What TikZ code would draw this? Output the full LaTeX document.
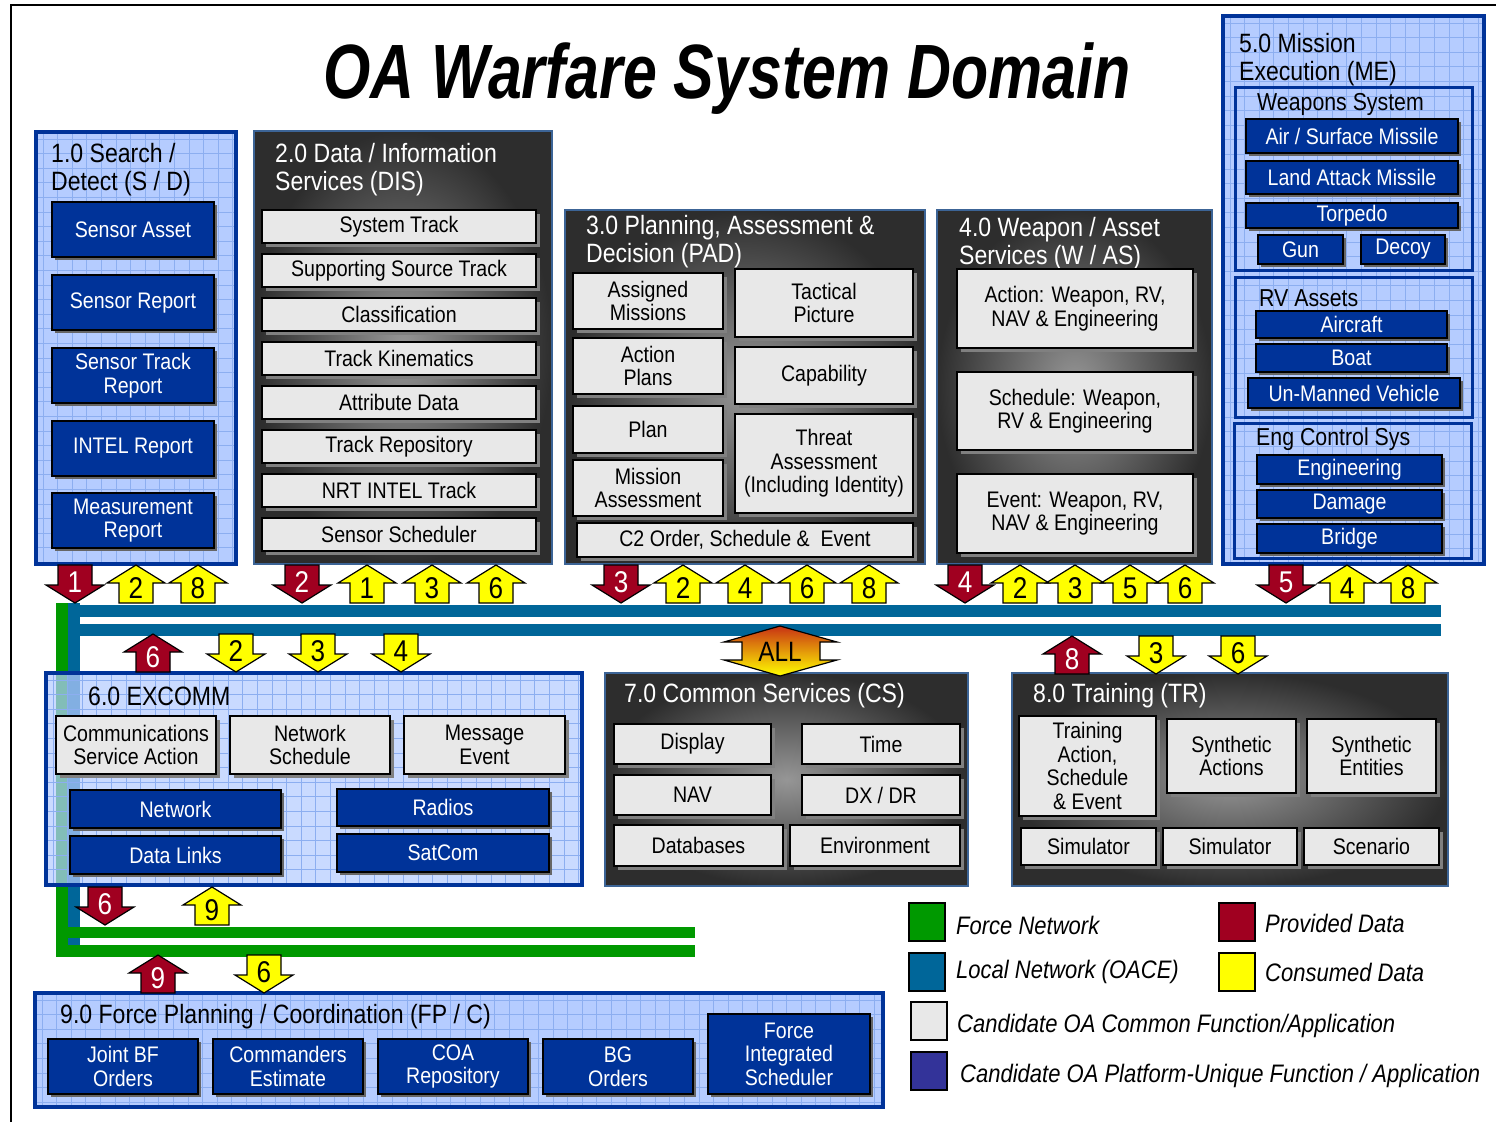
\documentclass[tikz,border=0pt]{standalone}
\usepackage{fontspec}
\setmainfont[FakeStretch=0.87]{Liberation Sans}
\newfontfamily\titlefont[FakeStretch=0.79]{Liberation Sans}
\usetikzlibrary{shadows}
\definecolor{dblue}{RGB}{0,51,153}
\definecolor{pfill}{RGB}{181,204,255}
\definecolor{pgrid}{RGB}{140,174,240}
\definecolor{lgray}{RGB}{232,232,232}
\definecolor{netblue}{RGB}{0,102,153}
\definecolor{netgreen}{RGB}{0,153,0}
\definecolor{provred}{RGB}{160,0,32}
\definecolor{consyel}{RGB}{255,255,0}
\definecolor{pborder}{RGB}{60,100,150}
\definecolor{purp}{RGB}{51,51,153}
\definecolor{pcenter}{RGB}{150,150,150}
\definecolor{pouter}{RGB}{45,45,45}
\definecolor{allred}{RGB}{200,50,20}
\newcommand\bxfont{\fontsize{22.5}{23.5}\selectfont}
\newcommand\ptfont{\fontsize{26.5}{28}\selectfont}
\newcommand\numfont{\fontsize{30}{30}\selectfont}
% box from corners
\newcommand\BX[7]{\node[#1, minimum width={#5-#3}, minimum height={#6-#4}] (#2) at ({(#3+#5)/2},{(#4+#6)/2+1}) {#7};}
% light-blue grid panel
\newcommand\BluePanel[5]{%
 \fill[pfill, fill opacity=#5] (#1,#2) rectangle (#3,#4);
 \begin{scope}
  \clip (#1,#2) rectangle (#3,#4);
  \foreach \k in {0,...,60}{
   \draw[pgrid, line width=0.9] ({#1+7+\k*14.6},#2) -- ({#1+7+\k*14.6},#4);
   \draw[pgrid, line width=0.9] (#1,{#2+7+\k*14.6}) -- (#3,{#2+7+\k*14.6});
  }
 \end{scope}
 \draw[dblue, line width=3.5] (#1,#2) rectangle (#3,#4);
}
% dark gradient panel
\newcommand\GrayPanel[4]{%
 \shade[inner color=pcenter, outer color=pouter] (#1,#2) rectangle (#3,#4);
 \draw[pborder, line width=2.5] (#1,#2) rectangle (#3,#4);
}
% block arrows: name, x, y (centre), colour, number
\newcommand\UpArr[5]{%
 \begin{scope}[shift={(#2,#3)}]
  \draw[arrline, fill=#4] (0,-19) -- (29,-1) -- (17,-1) -- (17,19) -- (-17,19) -- (-17,-1) -- (-29,-1) -- cycle;
  \node[numlbl, txt #4] (#1) at (0,4) {#5};
 \end{scope}}
\newcommand\DnArr[5]{%
 \begin{scope}[shift={(#2,#3)}]
  \draw[arrline, fill=#4] (0,19) -- (29,1) -- (17,1) -- (17,-19) -- (-17,-19) -- (-17,1) -- (-29,1) -- cycle;
  \node[numlbl, txt #4] (#1) at (0,-2) {#5};
 \end{scope}}
\begin{document}
\begin{tikzpicture}[x=1pt,y=-1pt,
  lbox/.style={draw=black, line width=1.8, fill=lgray, text=black, align=center, inner sep=0, font=\bxfont,
    drop shadow={shadow xshift=4pt, shadow yshift=-4pt, fill=black!50, opacity=1}},
  dbox/.style={draw=black, line width=1.8, fill=dblue, text=white, align=center, inner sep=0, font=\bxfont,
    drop shadow={shadow xshift=3pt, shadow yshift=-3pt, fill=black!60, opacity=1}},
  ptw/.style={text=white, font=\ptfont, align=left, anchor=west, inner sep=0},
  ptb/.style={text=black, font=\ptfont, align=left, anchor=west, inner sep=0},
  subt/.style={text=black, font=\fontsize{24.5}{26}\selectfont, anchor=west, inner sep=0},
  arrline/.style={draw=black, line width=1.2, line join=miter},
  numlbl/.style={font=\numfont, inner sep=0},
  txt provred/.style={text=white},
  txt consyel/.style={text=black},
  lgsq/.style={draw=black, line width=1.5, minimum width=36, minimum height=38, inner sep=0},
  lgtxt/.style={font=\itshape\fontsize{25.3}{27}\selectfont, anchor=west, inner sep=0},
  subp/.style={draw=dblue, line width=3}
]
\useasboundingbox (0,0) rectangle (1496,1122);
\fill[white] (0,0) rectangle (1496,1122);
% frame
\draw[line width=2] (11,1122) -- (11,5) -- (1496,5);
% title
\node[font=\titlefont\bfseries\itshape\fontsize{77}{80}\selectfont, anchor=base, inner sep=0] (title) at (727,98) {OA Warfare System Domain};

% ---------- networks ----------
\fill[netblue] (68,603) rectangle (80,945);
\fill[netblue] (68,605) rectangle (1441,617);
\fill[netblue] (80,624) rectangle (1441,636);
\fill[netgreen] (56,603) rectangle (68,957);
\fill[netgreen] (68,927) rectangle (695,938);
\fill[netgreen] (56,945) rectangle (695,957);

% ---------- 1.0 ----------
\BluePanel{36}{132}{236}{564}{1}
\node[ptb] (t1) at (51,170) {1.0 Search /\\Detect (S / D)};
\BX{dbox}{b1a}{52}{201}{214}{256}{Sensor Asset}
\BX{dbox}{b1b}{52}{274}{214}{329}{Sensor Report}
\BX{dbox}{b1c}{52}{347}{214}{402}{Sensor Track\\Report}
\BX{dbox}{b1d}{52}{420}{214}{475}{INTEL Report}
\BX{dbox}{b1e}{52}{492}{214}{547}{Measurement\\Report}

% ---------- 2.0 ----------
\GrayPanel{254}{131}{552}{564}
\node[ptw] (t2) at (275,170) {2.0 Data / Information\\Services (DIS)};
\BX{lbox}{b2a}{262}{209}{536}{242}{System Track}
\BX{lbox}{b2b}{262}{253}{536}{286}{Supporting Source Track}
\BX{lbox}{b2c}{262}{297}{536}{330}{Classification}
\BX{lbox}{b2d}{262}{341}{536}{374}{Track Kinematics}
\BX{lbox}{b2e}{262}{385}{536}{418}{Attribute Data}
\BX{lbox}{b2f}{262}{429}{536}{462}{Track Repository}
\BX{lbox}{b2g}{262}{473}{536}{506}{NRT INTEL Track}
\BX{lbox}{b2h}{262}{517}{536}{550}{Sensor Scheduler}

% ---------- 3.0 ----------
\GrayPanel{565}{210}{925}{564}
\node[ptw] (t3) at (586,242) {3.0 Planning, Assessment \&\\Decision (PAD)};
\BX{lbox}{b3a}{573}{272}{723}{328}{Assigned\\Missions}
\BX{lbox}{b3b}{735}{268}{913}{336}{Tactical\\Picture}
\BX{lbox}{b3c}{573}{337}{723}{393}{Action\\Plans}
\BX{lbox}{b3d}{735}{346}{913}{403}{Capability}
\BX{lbox}{b3e}{573}{405}{723}{452}{Plan}
\BX{lbox}{b3f}{735}{413}{913}{512}{Threat\\Assessment\\(Including Identity)}
\BX{lbox}{b3g}{573}{459}{723}{515}{Mission\\Assessment}
\BX{lbox}{b3h}{577}{522}{913}{556}{C2 Order, Schedule \& \ Event}

% ---------- 4.0 ----------
\GrayPanel{937}{210}{1212}{564}
\node[ptw] (t4) at (959,244) {4.0 Weapon / Asset\\Services (W / AS)};
\BX{lbox}{b4a}{957}{268}{1193}{347}{Action: Weapon, RV,\\NAV \& Engineering}
\BX{lbox}{b4b}{957}{371}{1193}{449}{Schedule: Weapon,\\RV \& Engineering}
\BX{lbox}{b4c}{957}{473}{1193}{552}{Event: Weapon, RV,\\NAV \& Engineering}

% ---------- 5.0 ----------
\BluePanel{1223}{16}{1484}{564}{1}
\node[ptb] (t5) at (1239,60) {5.0 Mission\\Execution (ME)};
\draw[subp] (1235,87) rectangle (1472,270);
\node[subt] (t5a) at (1257,104) {Weapons System};
\BX{dbox}{b5a}{1246}{118}{1458}{152}{Air / Surface Missile}
\BX{dbox}{b5b}{1246}{160}{1458}{193}{Land Attack Missile}
\BX{dbox}{b5c}{1246}{202}{1458}{227}{Torpedo}
\BX{dbox}{b5d}{1258}{234}{1343}{263}{Gun}
\BX{dbox}{b5e}{1361}{234}{1445}{263}{Decoy}
\draw[subp] (1235,277) rectangle (1472,417);
\node[subt] (t5b) at (1259,298) {RV Assets};
\BX{dbox}{b5f}{1256}{310}{1447}{337}{Aircraft}
\BX{dbox}{b5g}{1256}{343}{1447}{371}{Boat}
\BX{dbox}{b5h}{1248}{377}{1460}{407}{Un-Manned Vehicle}
\draw[subp] (1234,423) rectangle (1471,558);
\node[subt] (t5c) at (1256,439) {Eng Control Sys};
\BX{dbox}{b5i}{1257}{454}{1442}{483}{Engineering}
\BX{dbox}{b5j}{1257}{489}{1442}{517}{Damage}
\BX{dbox}{b5k}{1257}{523}{1442}{552}{Bridge}

% ---------- 6.0 ----------
\BluePanel{46}{673}{582}{885}{0.72}
\node[ptb] (t6) at (88,696) {6.0 EXCOMM};
\BX{lbox}{b6a}{56}{715}{216}{773}{Communications\\Service Action}
\BX{lbox}{b6b}{230}{715}{390}{773}{Network\\Schedule}
\BX{lbox}{b6c}{404}{715}{565}{773}{Message\\Event}
\BX{dbox}{b6d}{70}{789}{281}{827}{Network}
\BX{dbox}{b6e}{337}{788}{549}{825}{Radios}
\BX{dbox}{b6f}{70}{835}{281}{873}{Data Links}
\BX{dbox}{b6g}{337}{833}{549}{871}{SatCom}

% ---------- 7.0 ----------
\GrayPanel{605}{673}{968}{886}
\node[ptw] (t7) at (624,696) {7.0 Common Services (CS)};
\BX{lbox}{b7a}{614}{723}{771}{763}{Display}
\BX{lbox}{b7b}{802}{723}{960}{763}{Time}
\BX{lbox}{b7c}{614}{774}{771}{814}{NAV}
\BX{lbox}{b7d}{802}{774}{960}{814}{DX / DR}
\BX{lbox}{b7e}{614}{824}{783}{865}{Databases}
\BX{lbox}{b7f}{790}{824}{960}{865}{Environment}

% ---------- 8.0 ----------
\GrayPanel{1012}{673}{1448}{886}
\node[ptw] (t8) at (1033,696) {8.0 Training (TR)};
\BX{lbox}{b8a}{1019}{715}{1156}{815}{Training\\Action,\\Schedule\\\& Event}
\BX{lbox}{b8b}{1167}{718}{1296}{792}{Synthetic\\Actions}
\BX{lbox}{b8c}{1307}{718}{1436}{792}{Synthetic\\Entities}
\BX{lbox}{b8d}{1021}{827}{1156}{864}{Simulator}
\BX{lbox}{b8e}{1163}{827}{1297}{864}{Simulator}
\BX{lbox}{b8f}{1304}{827}{1439}{864}{Scenario}

% ---------- 9.0 ----------
\BluePanel{35}{993}{883}{1107}{1}
\node[ptb] (t9) at (60,1017) {9.0 Force Planning / Coordination (FP / C)};
\BX{dbox}{b9a}{48}{1038}{198}{1093}{Joint BF\\Orders}
\BX{dbox}{b9b}{213}{1038}{363}{1093}{Commanders\\Estimate}
\BX{dbox}{b9c}{378}{1038}{528}{1093}{COA\\Repository}
\BX{dbox}{b9d}{543}{1038}{693}{1093}{BG\\Orders}
\BX{dbox}{b9e}{708}{1013}{870}{1093}{Force\\Integrated\\Scheduler}

% ---------- ALL arrow ----------
\shadedraw[top color=allred, middle color=orange, bottom color=consyel, draw=black, line width=1.2]
  (780,626) -- (837,642) -- (820,642) -- (820,660) -- (837,660) -- (780,676) -- (724,660) -- (742,660) -- (742,642) -- (724,642) -- cycle;
\node[font=\fontsize{28}{28}\selectfont, inner sep=0] (all) at (780,652) {ALL};

% ---------- data arrows: row 1 ----------
\DnArr{r1a}{75}{584}{provred}{1}
\UpArr{r1b}{136}{584}{consyel}{2}
\UpArr{r1c}{198}{584}{consyel}{8}
\DnArr{r1d}{302}{584}{provred}{2}
\UpArr{r1e}{367}{584}{consyel}{1}
\UpArr{r1f}{432}{584}{consyel}{3}
\UpArr{r1g}{496}{584}{consyel}{6}
\DnArr{r1h}{621}{584}{provred}{3}
\UpArr{r1i}{683}{584}{consyel}{2}
\UpArr{r1j}{745}{584}{consyel}{4}
\UpArr{r1k}{807}{584}{consyel}{6}
\UpArr{r1l}{869}{584}{consyel}{8}
\DnArr{r1m}{965}{584}{provred}{4}
\UpArr{r1n}{1020}{584}{consyel}{2}
\UpArr{r1o}{1075}{584}{consyel}{3}
\UpArr{r1p}{1130}{584}{consyel}{5}
\UpArr{r1q}{1185}{584}{consyel}{6}
\DnArr{r1r}{1286}{584}{provred}{5}
\UpArr{r1s}{1347}{584}{consyel}{4}
\UpArr{r1t}{1408}{584}{consyel}{8}
% row 2
\UpArr{r2a}{153}{653}{provred}{6}
\DnArr{r2b}{236}{653}{consyel}{2}
\DnArr{r2c}{318}{653}{consyel}{3}
\DnArr{r2d}{401}{653}{consyel}{4}
\UpArr{r2e}{1072}{655}{provred}{8}
\DnArr{r2f}{1156}{655}{consyel}{3}
\DnArr{r2g}{1238}{655}{consyel}{6}
% row 3
\DnArr{r3a}{105}{906}{provred}{6}
\UpArr{r3b}{212}{906}{consyel}{9}
% row 4
\UpArr{r4a}{158}{974}{provred}{9}
\DnArr{r4b}{264}{974}{consyel}{6}

% ---------- legend ----------
\node[lgsq, fill=netgreen] (lg1) at (927,922) {};
\node[lgtxt] (lt1) at (956,925) {Force Network};
\node[lgsq, fill=netblue] (lg2) at (927,972) {};
\node[lgtxt] (lt2) at (956,972) {Local Network (OACE)};
\node[lgsq, fill=lgray] (lg3) at (929,1021) {};
\node[lgtxt] (lt3) at (957,1026) {Candidate OA Common Function/Application};
\node[lgsq, fill=purp] (lg4) at (929,1071) {};
\node[lgtxt] (lt4) at (960,1076) {Candidate OA Platform-Unique Function / Application};
\node[lgsq, fill=provred] (lg5) at (1237,922) {};
\node[lgtxt] (lt5) at (1265,923) {Provided Data};
\node[lgsq, fill=consyel] (lg6) at (1237,972) {};
\node[lgtxt] (lt6) at (1265,972) {Consumed Data};
\end{tikzpicture}
\end{document}
